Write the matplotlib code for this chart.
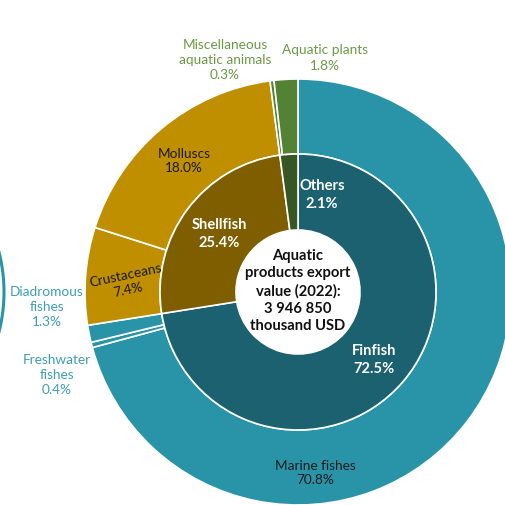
import matplotlib.pyplot as plt
from matplotlib.patches import Circle

plt.rcParams['font.family'] = ['Lato', 'DejaVu Sans']

# inner ring: product groups (% of export value)
groups = ['Finfish', 'Shellfish', 'Others']
group_share = [72.5, 25.4, 2.1]

# outer ring: sub-categories, same order as groups
species = ['Marine fishes', 'Freshwater\nfishes', 'Diadromous\nfishes', 'Crustaceans',
           'Molluscs', 'Miscellaneous\naquatic animals', 'Aquatic plants']
species_share = [70.8, 0.4, 1.3, 7.4, 18.0, 0.3, 1.8]

center_text = 'Aquatic\nproducts export\nvalue (2022):\n3 946 850\nthousand USD'

W = H = 505
cx, cy = 298, 292
r_out, r_mid, r_hole = 213, 138, 62

teal = '#2994A8'
dark_teal = '#1B6170'
gold = '#BF8F00'
brown = '#7F5E00'
green = '#548235'
dark_green = '#375623'

outer_colors = [teal, teal, teal, gold, gold, green, green]
inner_colors = [dark_teal, brown, dark_green]


def Y(y):
    # pixel rows counted from the top
    return H - y


fig = plt.figure(figsize=(W / 100, H / 100), dpi=100)
ax = fig.add_axes([0, 0, 1, 1])

ax.pie(species_share, radius=r_out, center=(cx, Y(cy)), startangle=90, counterclock=False,
       colors=outer_colors,
       wedgeprops=dict(width=r_out - r_mid, edgecolor='white', linewidth=1.2))
ax.pie(group_share, radius=r_mid, center=(cx, Y(cy)), startangle=90, counterclock=False,
       colors=inner_colors,
       wedgeprops=dict(width=r_mid - r_hole, edgecolor='white', linewidth=1.2))

# edge of the neighbouring ring on the left
ax.add_patch(Circle((-157, Y(292)), 161, fill=False, edgecolor=teal, linewidth=2.2))

ax.set_xlim(0, W)
ax.set_ylim(0, H)
ax.set_aspect('equal')
ax.axis('off')

fs = 9.8
ax.text(cx, Y(291), center_text, ha='center', va='center', fontsize=10.6,
        fontweight='bold', color='#111111', linespacing=1.3)

# group labels on the inner ring
inner_pos = {'Finfish': (374, 360), 'Shellfish': (219, 234), 'Others': (322, 195)}
for g, v in zip(groups, group_share):
    x, y = inner_pos[g]
    ax.text(x, Y(y), '%s\n%.1f%%' % (g, v), ha='center', va='center', fontsize=10.6,
            fontweight='bold', color='white', linespacing=1.3)

# sub-category labels
label_pos = {
    'Marine fishes': (315, 473, '#1a1a1a', 0),
    'Freshwater\nfishes': (57, 375, '#3E9EB4', 0),
    'Diadromous\nfishes': (47, 307, '#3E9EB4', 0),
    'Crustaceans': (127, 283, '#1a1a1a', 12),
    'Molluscs': (184, 161, '#1a1a1a', 0),
    'Miscellaneous\naquatic animals': (225, 60, '#6A9A45', 0),
    'Aquatic plants': (325, 58, '#6A9A45', 0),
}
for s, v in zip(species, species_share):
    x, y, c, rot = label_pos[s]
    ax.text(x, Y(y), '%s\n%.1f%%' % (s, v), ha='center', va='center', fontsize=fs,
            color=c, rotation=rot, rotation_mode='anchor', linespacing=1.3)

fig.savefig('out.png', dpi=100, facecolor='white')
